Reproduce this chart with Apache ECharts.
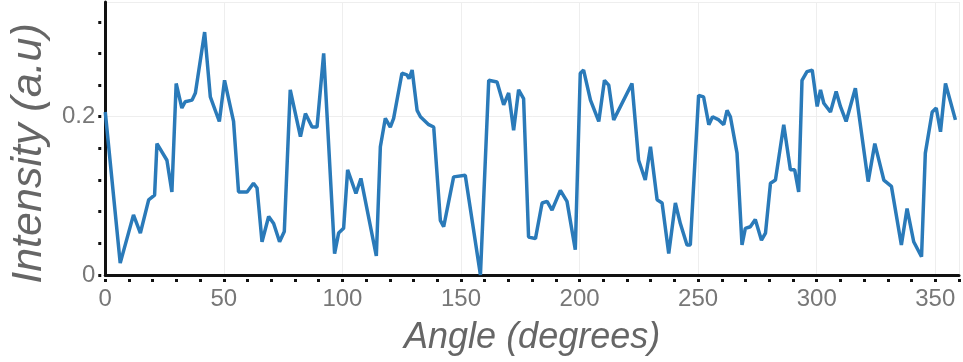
<!DOCTYPE html>
<html>
<head>
<meta charset="utf-8">
<script src="https://cdn.jsdelivr.net/npm/echarts@6/dist/echarts.min.js"></script>
<style>
html, body { margin: 0; padding: 0; background: #fff; }
#main { width: 963px; height: 362px; }
</style>
</head>
<body>
<div id="main"></div>
<script>
var myChart = echarts.init(document.getElementById('main'));

// angle (degrees) of each sample
var angles = [
	0, 6.3, 11.9, 14.8, 18.3, 20.8, 21.8, 26.0, 28.1, 29.9,
	32.3, 33.7, 36.6, 38.0, 41.9, 44.3, 48.1, 50.3, 54.1, 56.2,
	59.8, 62.5, 64.0, 66.1, 68.9, 71.0, 73.5, 75.5, 78.0, 82.3,
	84.4, 87.2, 89.3, 92.1, 96.7, 98.4, 100.5, 102.2, 105.7, 107.8,
	114.3, 116.0, 118.1, 120.2, 121.6, 125.1, 127.2, 128.1, 129.4, 131.5,
	132.9, 136.4, 138.5, 141.3, 142.7, 146.9, 151.8, 158.2, 161.7, 165.2,
	168.0, 170.1, 172.2, 174.3, 176.4, 178.5, 181.4, 184.2, 186.3, 188.4,
	191.9, 194.7, 198.2, 200.3, 201.7, 204.6, 208.1, 210.5, 212.3, 214.4,
	222.1, 224.9, 227.7, 229.9, 232.7, 234.8, 237.6, 240.4, 242.5, 245.3,
	246.7, 250.2, 252.3, 254.5, 256.1, 258.7, 260.8, 262.2, 263.6, 266.4,
	268.5, 269.9, 272.0, 274.1, 276.7, 278.4, 280.5, 282.6, 286.1, 288.9,
	290.7, 292.4, 293.8, 295.9, 298.1, 300.2, 301.6, 303.0, 305.8, 308.2,
	310.0, 312.4, 316.3, 321.7, 324.5, 328.3, 331.5, 335.7, 338.1, 340.9,
	344.2, 345.8, 348.7, 350.4, 352.2, 354.3, 358.5
];
// intensity (a.u) at each angle
var intensity = [
	0.206, 0.015, 0.076, 0.053, 0.095, 0.101, 0.166, 0.145, 0.105, 0.242,
	0.211, 0.219, 0.221, 0.230, 0.307, 0.225, 0.194, 0.246, 0.194, 0.105,
	0.105, 0.116, 0.110, 0.042, 0.074, 0.065, 0.042, 0.055, 0.234, 0.175,
	0.204, 0.187, 0.187, 0.280, 0.027, 0.053, 0.059, 0.133, 0.103, 0.122,
	0.024, 0.162, 0.198, 0.187, 0.198, 0.255, 0.253, 0.248, 0.259, 0.208,
	0.200, 0.190, 0.187, 0.069, 0.061, 0.124, 0.126, 0.000, 0.246, 0.244,
	0.215, 0.230, 0.183, 0.234, 0.223, 0.048, 0.046, 0.091, 0.093, 0.082,
	0.107, 0.093, 0.032, 0.255, 0.259, 0.221, 0.194, 0.246, 0.240, 0.196,
	0.242, 0.145, 0.120, 0.162, 0.095, 0.091, 0.027, 0.091, 0.065, 0.038,
	0.038, 0.227, 0.225, 0.190, 0.200, 0.196, 0.190, 0.208, 0.200, 0.154,
	0.038, 0.059, 0.061, 0.070, 0.044, 0.053, 0.116, 0.120, 0.190, 0.133,
	0.133, 0.105, 0.246, 0.257, 0.259, 0.213, 0.234, 0.217, 0.206, 0.232,
	0.213, 0.194, 0.236, 0.118, 0.166, 0.120, 0.112, 0.038, 0.084, 0.042,
	0.023, 0.154, 0.206, 0.211, 0.181, 0.242, 0.196
];
var xLabelValues = [0, 50, 100, 150, 200, 250, 300, 350];
var yLabelValues = [0, 0.2];
var yTickValues = [0, 0.04, 0.08, 0.12, 0.16, 0.2, 0.24, 0.28, 0.32];

var points = [];
for (var i = 0; i < angles.length; i++) {
	points.push([angles[i], intensity[i]]);
}

var labelColor = '#777';
var tickLine = {
	color: '#111',
	width: 3,
	type: [3, 4],
	dashOffset: 3
};

var option = {
	backgroundColor: '#fff',
	animation: false,
	grid: {
		left: 105,
		right: 4,
		top: 2,
		bottom: 87
	},
	xAxis: [{
		type: 'value',
		min: 0,
		max: 360,
		interval: 10,
		name: 'Angle (degrees)',
		nameLocation: 'middle',
		nameGap: 45,
		nameTextStyle: {
			color: '#666',
			fontSize: 36,
			fontStyle: 'italic',
			fontFamily: 'Liberation Sans'
		},
		axisLine: { lineStyle: { color: '#111', width: 3 } },
		axisTick: { show: true, length: 7, lineStyle: tickLine },
		axisLabel: {
			color: labelColor,
			fontSize: 24,
			fontFamily: 'Liberation Sans',
			margin: 12,
			formatter: function (v) {
				var r = Math.round(v);
				return (Math.abs(v - r) < 1e-6 && xLabelValues.indexOf(r) >= 0) ? String(r) : '';
			}
		},
		splitLine: { show: false }
	}, {
		type: 'value',
		min: 0,
		max: 360,
		interval: 50,
		position: 'bottom',
		axisLine: { show: false },
		axisTick: { show: false },
		axisLabel: { show: false },
		splitLine: { show: true, lineStyle: { color: '#eeeeee', width: 1 } }
	}],
	yAxis: [{
		type: 'value',
		min: 0,
		max: 0.345,
		interval: 0.04,
		name: 'Intensity (a.u)',
		nameLocation: 'middle',
		nameGap: 50,
		nameTextStyle: {
			color: '#666',
			fontSize: 43,
			fontStyle: 'italic',
			fontFamily: 'Liberation Sans',
			padding: [0, 30, 0, 0]
		},
		axisLine: { lineStyle: { color: '#111', width: 3 } },
		axisTick: { show: true, length: 7, lineStyle: tickLine, customValues: yTickValues },
		axisLabel: {
			color: labelColor,
			fontSize: 24,
			fontFamily: 'Liberation Sans',
			margin: 10,
			customValues: yLabelValues,
			formatter: function (v) {
				return String(Math.round(v * 100) / 100);
			}
		},
		splitLine: { show: false }
	}, {
		type: 'value',
		min: 0,
		max: 0.345,
		interval: 0.2,
		position: 'left',
		axisLine: { show: false },
		axisTick: { show: false },
		axisLabel: { show: false },
		splitLine: { show: true, lineStyle: { color: '#eeeeee', width: 1 } }
	}],
	series: [{
		type: 'line',
		xAxisIndex: 0,
		yAxisIndex: 0,
		data: points,
		showSymbol: false,
		lineStyle: {
			color: '#2a7ab9',
			width: 3.5
		},
		z: 3
	}]
};

myChart.setOption(option, true);
</script>
</body>
</html>
